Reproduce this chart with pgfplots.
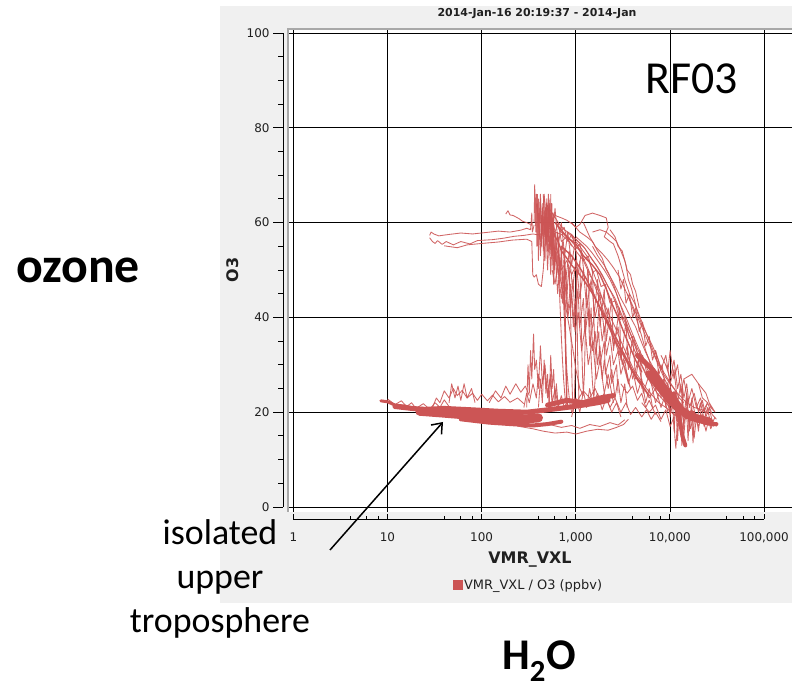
\documentclass[border=0pt]{standalone}
\usepackage{pgfplots}
\pgfplotsset{compat=1.18}
\usepackage{fontspec}
\setmainfont{DejaVu Sans}
\newfontfamily\calibri{Carlito}
\usetikzlibrary{arrows.meta}
\definecolor{panel}{HTML}{F0F0F0}
\definecolor{trace}{RGB}{204,85,85}
\definecolor{frameg}{HTML}{A8A8A8}
\definecolor{lbl}{HTML}{202020}
\pgfplotsset{
  tr/.style={trace, line width=0.85bp, opacity=0.9, forget plot, line join=round},
  trm/.style={trace, line width=1.4bp, forget plot, line join=round, line cap=round},
  trk/.style={trace, line width=#1, forget plot, line join=round, line cap=round},
}
\begin{document}
\begin{tikzpicture}[x=1bp,y=1bp]
\useasboundingbox (0,0) rectangle (792,691);
\fill[white] (0,0) rectangle (792,691);
\fill[panel] (220,88) rectangle (792,685);
\node[font=\bfseries\fontsize{11}{13}\selectfont, text=lbl] at (537,677) {2014-Jan-16 20:19:37 - 2014-Jan};

% main plot area
\begin{axis}[at={(287bp,179bp)}, anchor=south west, scale only axis,
  width=505bp, height=484bp, xmode=log,
  xmin=0.857, xmax=196800, ymin=-1.05, ymax=101.05,
  axis background/.style={fill=white}, axis line style={draw=none},
  xtick={1,10,100,1000,10000,100000}, ytick={0,20,40,60,80,100},
  xticklabels={}, yticklabels={}, xminorticks=false, yminorticks=false,
  tick style={draw=none}, grid=major, major grid style={black, line width=0.9bp},
  legend style={at={(0.478,-0.151)}, anchor=center, draw=none, fill=none,
    font=\fontsize{13}{15}\selectfont, text=lbl, inner sep=0pt},
  clip=true]
\addlegendimage{legend image code/.code={\fill[trace] (0bp,-4.5bp) rectangle (9bp,4.5bp);}}
\addlegendentry{VMR\_VXL / O3 (ppbv)}
% --- low band (thick cores)
\addplot[trk=9bp] coordinates {(22,20.2) (40,19.8) (70,19.4) (120,19.0) (200,18.7) (300,18.6) (400,18.8)};
\addplot[trk=5bp] coordinates {(12,21.2) (18,20.8) (25,20.6) (40,20.8) (80,20.5) (150,20.2) (300,20.0) (500,20.5) (800,21) (1200,21.5) (1700,22) (2200,22.5)};
\addplot[trk=4bp] coordinates {(60,18.5) (120,17.8) (200,17.5) (350,17.2) (500,17.5) (700,18)};
\addplot[trk=5bp] coordinates {(500,21.5) (800,22.5) (1200,22) (1800,23) (2500,23.5)};
\addplot[trk=3bp] coordinates {(8.5,22.4) (10,22.2) (12,21.5) (15,21.3) (20,20.8)};
% --- bottom right dense cores
\addplot[trk=8bp] coordinates {(6000,28) (8000,25) (10000,22.5) (12000,21) (14000,20) (17000,19) (21000,18.5) (26000,18)};
\addplot[trk=5bp] coordinates {(4500,32) (6500,29) (9000,25) (11000,23) (13000,21) (15000,19)};
\addplot[trk=4bp] coordinates {(11000,24) (12500,19) (13500,15) (14500,13)};
\addplot[trk=4bp] coordinates {(17000,20) (22000,18) (28000,17.5) (31000,17.5)};
\addplot[trm] coordinates {(500,63) (550,60) (600,57) (650,56) (700,54) (800,52.5) (900,51) (1000,50) (1200,48) (1400,46) (1600,44) (1800,42) (2000,40) (2300,37.5) (2600,35) (3000,33) (3500,30.5) (4000,28.5) (4600,26.5) (5300,25) (6000,23.5)};
\addplot[trm] coordinates {(600,60) (800,57) (1000,55.5) (1200,53) (1500,51) (1800,49) (2100,46) (2400,43) (2800,40) (3200,37) (3700,34) (4300,31) (5000,28.5)};
\addplot[trm] coordinates {(700,55) (900,53) (1100,50.5) (1300,48) (1500,45.5) (1700,43) (2000,40.5) (2300,38) (2700,35.5) (3100,33) (3600,30.5) (4200,28) (5000,26)};
% --- thin traces
\addplot[tr] coordinates {(28,57.3) (29,58) (31,57.6) (35,57.2) (45,57.5) (60,57.8) (80,57.6) (110,57.9) (150,58.2) (200,58.0) (260,58.4) (300,58.8) (330,58.5) (340,62) (345,58) (360,59.5)};
\addplot[tr] coordinates {(28,56.8) (30,56) (32,55.6) (34,56.2) (38,55.4) (42,56) (50,55.3) (60,56) (75,55.5) (90,56.2) (130,56.4) (170,56.7) (220,57.1) (280,57.3) (350,57.6) (400,57.4) (450,57.8)};
\addplot[tr] coordinates {(40,55.1) (55,54.7) (70,55.3) (100,55.6) (150,55.9) (210,56.3) (300,56.5) (340,56) (345,52) (348,49) (360,48.5) (380,49) (400,47) (430,46.5) (450,50) (460,53)};
\addplot[tr] coordinates {(180,61.8) (190,62.5) (200,61.6) (215,61.5) (230,61.2) (250,60.8) (270,60.3) (300,60) (330,59.6)};
\addplot[tr] coordinates {(360,60) (365,68) (370,64) (375,58) (380,66) (385,55) (390,64) (400,52) (405,62) (410,57) (420,65) (430,55) (440,63) (450,54) (460,65) (470,52) (480,62) (500,54) (520,63) (540,55) (560,61) (600,58) (650,60) (700,56) (800,57) (900,55)};
\addplot[tr] coordinates {(390,66) (395,59) (400,65) (410,60) (420,66) (435,58) (445,64) (460,57) (475,63) (490,56) (510,61) (530,53) (550,58) (580,51) (620,55) (700,50) (800,52) (900,49) (1000,51)};
\addplot[tr] coordinates {(520,59) (600,61.5) (700,61) (800,60.5) (900,59.8) (1000,59) (1100,59.6) (1250,61.5) (1500,62) (1800,61.5) (2100,61) (2200,59) (2000,57) (2300,56) (2500,55.5) (2800,53) (3000,51) (3300,48) (3700,45) (4200,43) (4800,40) (5500,37) (6300,34) (7200,31) (8200,29) (9500,27) (11000,25) (12500,23) (14000,22)};
\addplot[tr] coordinates {(2300,58.5) (2600,57) (2800,55) (3100,54) (3400,51) (3600,48) (3900,46) (4200,43.5) (4500,41) (5000,38.5) (5800,36) (6500,34) (7500,31) (8500,28) (10000,26) (12000,24) (15000,22) (18000,21) (22000,20.5) (26000,19.5)};
\addplot[tr] coordinates {(560,56) (600,53) (650,50) (700,47) (750,44) (800,41) (850,38) (900,35) (950,32) (1000,29) (1050,27) (1100,25) (1200,23.5)};
\addplot[tr] coordinates {(700,58) (900,56) (1100,54) (1300,51) (1500,48) (1700,45) (1900,42) (2200,39) (2500,36) (2800,33) (3200,30) (3500,27) (3800,25) (3500,28) (3100,31) (2700,35) (2400,38) (2100,41) (1900,44) (1700,47) (1500,50) (1300,53) (1100,55) (900,57)};
\addplot[tr] coordinates {(1000,57) (1300,55) (1500,53.5) (1700,52) (2000,50) (2300,48) (2700,45) (3000,42.5) (3400,40) (3900,37) (4400,34.5) (5000,32) (5800,30) (6600,27.5) (7500,25.5) (8600,23.5) (10000,22) (12000,20.5) (14000,19)};
\addplot[tr] coordinates {(850,50) (870,45) (880,40) (890,35) (900,30) (910,26) (920,23) (930,20) (960,22) (980,28) (990,34) (1000,40) (1000,46) (1010,50) (1020,47) (1030,40) (1040,33) (1060,27) (1080,22)};
\addplot[tr] coordinates {(700,52) (720,48) (740,43) (760,38) (780,33) (800,29) (830,25) (860,22) (900,20)};
\addplot[tr] coordinates {(1300,45) (1400,38) (1450,42) (1500,33) (1600,37) (1700,30) (1800,34) (1900,27) (2000,31) (2200,25) (2400,29) (2600,23) (2800,27) (3000,22) (3300,26) (3500,21)};
\addplot[tr] coordinates {(1800,40) (1900,35) (2000,38) (2100,32) (2300,36) (2500,30) (2800,33) (3000,28) (3300,31) (3600,26) (4000,29) (4500,24) (5000,27) (5500,22) (6000,25) (6500,21)};
\addplot[tr] coordinates {(280,21) (300,24) (320,22) (350,26) (380,23) (400,28) (430,25) (460,29) (500,24) (530,27) (560,22) (600,25) (650,21) (700,23.5) (750,21) (820,22.5)};
\addplot[tr] coordinates {(300,21) (310,30) (320,24) (330,33) (340,27) (355,36.5) (365,29) (380,31) (400,25) (420,34) (440,26) (470,30) (500,23) (540,28) (560,22)};
\addplot[tr] coordinates {(30,21) (33,23) (36,22) (40,24.5) (45,23) (50,25) (55,23.5) (62,24.6) (70,23) (80,24) (90,22.5) (100,23.8) (115,22.4) (130,23.6) (150,22.2) (175,23.3) (200,22.1) (240,23) (280,21.8)};
\addplot[tr] coordinates {(120,22) (140,24.5) (160,23) (180,25.5) (200,23.8) (230,26) (260,24.2) (290,25.5) (320,23.5)};
\addplot[tr] coordinates {(180,18) (250,17) (350,16.5) (450,16) (600,15.6) (800,15.8) (1000,15.4) (1300,16) (1700,16.4) (2200,16.2) (2700,16.8) (3200,17.4) (3600,18.5)};
\addplot[tr] coordinates {(500,17.5) (700,16.8) (900,17.2) (1100,16.6) (1400,17.4) (1800,17) (2300,17.8) (2800,17.3) (3300,18.4)};
\addplot[tr] coordinates {(1000,22) (1200,24.5) (1400,23) (1600,25) (1800,22.5) (2000,24) (2300,21) (2600,23) (3000,20) (3400,22) (3800,19.5) (4300,21) (5000,19) (5600,20.5) (6300,18.5) (7000,20) (8000,18)};
\addplot[tr] coordinates {(6000,30) (7000,26) (7500,29) (8000,23) (8500,27) (9000,21) (9500,26) (10000,19) (10500,24) (11000,16) (11500,22) (12000,14) (12500,21) (13000,17) (13500,25) (14000,15) (15000,23) (16000,17) (17000,21) (18000,14.5) (19000,19) (20000,16) (21000,20) (23000,17) (25000,19) (27000,16.5) (29000,18) (31000,17)};
\addplot[tr] coordinates {(9000,30) (10000,27) (11000,31) (12000,25) (13000,28) (14000,23) (15000,26) (16000,21) (18000,24) (20000,20) (22000,22.5) (24000,19) (26000,21) (28000,18)};
\addplot[tr] coordinates {(11000,20) (11200,15) (11500,12.4) (11800,16) (12200,19)};
\addplot[tr] coordinates {(14000,27) (17000,28) (20000,26) (22000,23) (25000,22) (22000,20) (19000,21)};
\addplot[tr] coordinates {(3500,45) (4000,42) (4500,39) (5000,36) (5500,33) (6000,31) (6500,28) (7000,26)};
\addplot[tr] coordinates {(450,66) (470,58) (490,64) (510,56) (530,62) (550,54) (570,60) (600,52) (640,58) (680,50) (720,56) (780,48) (850,54) (920,46) (1000,52) (1100,44) (1200,50) (1300,42) (1450,48) (1600,40) (1800,45) (2000,37) (2200,42) (2500,34) (2800,38) (3100,30) (3500,34) (4000,27) (4600,31) (5200,24) (6000,28) (7000,22) (8000,25) (9500,20)};
\addplot[tr] coordinates {(420,60) (500,59) (600,58) (700,57.5) (850,56) (1000,54) (1200,52) (1400,49) (1600,47) (1900,44) (2200,41) (2600,38) (3000,35) (3500,32) (4100,29) (4800,27) (5600,25) (6500,23.5) (7600,22) (9000,21) (11000,19.5) (13000,18.5)};
\addplot[tr] coordinates {(480,64) (560,62) (650,60) (750,58.5) (900,57.5) (1050,56) (1250,54.5) (1450,52.5) (1700,50.5) (2000,48) (2400,45) (2800,42) (3200,39) (3700,36) (4200,33) (4800,30.5) (5500,28) (6300,26) (7300,24) (8500,22.5) (10000,21)};
\addplot[tr] coordinates {(540,66) (545,55) (550,64) (555,53) (560,62) (570,51) (580,60) (590,50) (610,58) (630,49) (650,57) (680,48) (700,55) (730,46) (760,53) (800,44) (840,51) (880,42) (930,48) (980,40) (1050,46) (1100,38) (1200,44) (1250,36) (1350,42) (1400,34) (1550,40) (1600,32) (1750,37) (1800,30) (2000,35) (2050,28) (2300,32) (2400,26) (2700,30) (2800,24)};
\addplot[tr] coordinates {(400,62) (420,53) (440,61) (460,52) (480,60) (500,50) (520,58) (540,49) (560,57) (580,47) (600,54) (640,45) (680,52) (720,43) (780,50) (820,41) (880,47) (940,38) (1000,44)};
\addplot[tr] coordinates {(1500,55) (1700,53) (2000,51) (2200,49.5) (2500,47) (2800,44) (3100,41.5) (3500,38.5) (3900,36) (4400,33) (5000,30) (5600,28) (6300,26.5) (7100,25) (8000,24) (9000,23) (10000,22) (11500,21)};
\addplot[tr] coordinates {(2800,50) (3000,46) (3200,48) (3400,43) (3700,45) (4000,40) (4300,42) (4700,37) (5100,39) (5500,34) (6000,36) (6500,31) (7000,33) (7600,28) (8200,30) (9000,25) (9800,27) (10500,23)};
\addplot[tr] coordinates {(1100,52) (1120,45) (1140,38) (1160,32) (1180,27) (1200,24) (1230,28) (1250,34) (1270,40) (1300,46) (1330,50)};
\addplot[tr] coordinates {(1350,50) (1380,43) (1420,36) (1460,30) (1500,26) (1550,23) (1600,27) (1650,33) (1700,38) (1750,42)};
\addplot[tr] coordinates {(1500,58) (1800,58.5) (2100,58) (2400,57) (2700,56) (3000,54) (3300,52) (3500,50) (3800,49) (4000,47) (4300,45.5) (4700,42)};
\addplot[tr] coordinates {(400,21) (420,27) (440,22) (460,31) (480,24) (500,28) (520,21) (540,32) (560,25) (580,29) (600,22) (620,26) (650,21)};
\addplot[tr] coordinates {(10,22.8) (12,21.6) (14,22.4) (16,21.2) (18,22) (20,20.8) (24,21.8) (28,20.6) (32,22) (36,21) (40,22.6) (45,21.2)};
\addplot[tr] coordinates {(900,19) (1000,23) (1100,20) (1200,24.5) (1300,21) (1400,25) (1500,21.5) (1700,24) (1900,20.5) (2100,23) (2400,20) (2700,22) (3000,19)};
\addplot[tr] coordinates {(7000,33) (8000,29) (9000,32) (10000,26) (11000,29) (12000,22) (13000,26) (14000,19) (15000,24) (16000,16) (17000,23) (19000,18) (21000,22) (23000,18.5) (25000,21) (27000,17) (30000,19)};
\addplot[tr] coordinates {(15000,20) (15500,14) (16000,19)};
\addplot[tr] coordinates {(20000,26) (24000,24) (27000,21) (30000,20) (26000,22)};
\addplot[tr] coordinates {(380,64) (420,56) (460,66) (500,58) (520,64) (560,57) (600,63) (650,55) (700,60) (760,53) (820,58) (900,51) (980,56) (1050,49) (1150,54) (1250,47)};
\addplot[tr] coordinates {(620,60) (680,58) (750,59) (820,56) (900,57.5) (1000,54.5) (1100,55.5) (1200,52) (1350,53) (1500,49.5) (1650,50) (1850,46.5) (2050,47) (2300,43) (2600,43.5) (2900,39.5) (3300,40) (3700,35.5) (4100,36) (4600,31.5) (5100,32) (5700,28)};
\addplot[tr] coordinates {(560,50) (600,47) (640,51) (700,44) (760,48) (820,40) (900,45) (980,37) (1060,41) (1150,33) (1250,38) (1350,30) (1500,35) (1650,27) (1800,31) (2000,24) (2200,28) (2500,22)};
\addplot[tr] coordinates {(900,60) (1100,58) (1300,57) (1500,56) (1700,54) (1900,52.5) (2100,50) (2400,48) (2700,46) (3000,44) (3400,42) (3800,40) (4300,38) (4800,35.5) (5400,33) (6000,31) (6800,29) (7700,27) (8800,25) (10000,23.5) (11500,22)};
\addplot[tr] coordinates {(1200,60) (1400,57) (1600,55) (1900,53.5) (2200,52) (2500,50.5) (2900,48.5) (3300,46) (3800,43.5) (4300,41) (5000,38) (5800,35) (6600,32.5) (7500,30) (8500,27.5) (9500,25.5) (11000,23.5) (12500,22)};
\addplot[tr] coordinates {(1500,50) (1550,40) (1700,48) (1800,38) (2000,46) (2100,35) (2400,44) (2500,33) (2900,42) (3000,31) (3400,39) (3600,29) (4000,36) (4300,27) (4800,33) (5000,25)};
\addplot[trm] coordinates {(750,52) (760,45) (770,38) (780,32) (790,27) (800,23) (810,21)};
\addplot[tr] coordinates {(650,55) (660,48) (680,42) (700,36) (720,31) (740,27) (760,24) (780,22)};
\addplot[tr] coordinates {(5000,26) (6000,23) (7000,25) (8000,21) (9000,24) (10000,19.5) (11000,22.5) (12000,18) (13000,21.5) (14000,17.5) (15000,21) (16500,16.5) (18000,20) (20000,17) (22000,19.5) (24000,16) (26000,19) (29000,17)};
\addplot[tr] coordinates {(8000,32) (9500,29) (10000,33) (11000,27) (12000,30) (13000,24) (14000,27) (15500,22) (17000,25) (19000,21) (21000,23) (23000,20) (25000,22) (28000,19.5) (31000,18.5)};
\addplot[tr] coordinates {(13000,20) (13300,13) (13700,18)};
\addplot[tr] coordinates {(17000,19) (17500,13.5) (18000,18)};
\addplot[tr] coordinates {(480,55) (490,65) (500,57) (510,66) (520,58) (530,65) (545,56) (555,64) (565,55) (575,62) (590,53)};
\addplot[tr] coordinates {(45,22) (48,26) (52,23) (56,25.5) (60,22.5) (65,26) (70,23) (78,25) (85,22)};
\addplot[tr] coordinates {(800,58) (1000,56.5) (1200,55) (1400,53) (1650,51) (1900,49) (2200,46.5) (2600,44) (3000,41) (3500,38) (4000,35.5) (4600,33) (5300,30.5) (6100,28) (7000,26) (8000,24.5)};
\addplot[tr] coordinates {(5000,22) (6000,20) (7000,21.5) (8000,18.5) (9000,20.5) (10000,17) (11000,19)};
\addplot[tr] coordinates {(3000,26) (3500,24) (4000,25.5) (4500,22.5) (5000,24) (5500,21) (6000,22.5) (7000,19.5)};
\end{axis}
\draw[frameg, line width=2bp] (288,179) -- (288,662) -- (792,662);

% y axis
\begin{axis}[at={(283bp,184bp)}, anchor=south west, scale only axis,
  width=1bp, height=474bp, xmin=0, xmax=1, ymin=0, ymax=100,
  axis x line=none, axis y line*=left, ytick pos=left, tick align=outside,
  ytick={0,20,40,60,80,100}, yticklabels={0,20,40,60,80,100},
  minor y tick num=3, major tick length=10bp, minor tick length=5bp,
  tick style={black, line width=0.8bp}, axis line style={black, line width=0.8bp},
  yticklabel style={font=\fontsize{12}{14}\selectfont, text=lbl}]
\end{axis}

% x axis
\begin{axis}[at={(293.3bp,172bp)}, anchor=south west, scale only axis,
  width=470.7bp, height=1bp, xmode=log, xmin=1, xmax=100000, ymin=0, ymax=1,
  axis y line=none, axis x line*=bottom, xtick pos=bottom, tick align=inside,
  xtick={1,10,100,1000,10000,100000}, xticklabels={1,10,100,{1,000},{10,000},{100,000}},
  minor xtick={4,6,8,40,60,80,400,600,800,4000,6000,8000,40000,60000,80000},
  major tick length=5bp, minor tick length=3bp,
  tick style={black, line width=0.8bp}, axis line style={black, line width=0.8bp},
  xticklabel style={font=\fontsize{12}{14}\selectfont, text=lbl, yshift=-10bp}]
\end{axis}

\node[font=\bfseries\fontsize{16}{18}\selectfont, text=lbl] at (530,131) {VMR\_VXL};
\node[font=\bfseries\fontsize{16}{18}\selectfont, text=lbl, rotate=90] at (233,421) {O3};

\node[font=\calibri\fontsize{46}{50}\selectfont] at (692,612) {RF03};
\node[font=\calibri\bfseries\fontsize{50}{54}\selectfont] at (78,421) {ozone};
\node[font=\calibri\bfseries\fontsize{44}{48}\selectfont, anchor=base] at (539,21) {H\textsubscript{2}O};
\node[font=\calibri\fontsize{36}{40}\selectfont, anchor=base] at (220,146) {isolated};
\node[font=\calibri\fontsize{36}{40}\selectfont, anchor=base] at (220,102) {upper};
\node[font=\calibri\fontsize{36}{40}\selectfont, anchor=base] at (220,58) {troposphere};
\draw[black, line width=1.5bp, -{Straight Barb[length=9bp,width=14bp]}] (330,141) -- (443,269);
\end{tikzpicture}
\end{document}
